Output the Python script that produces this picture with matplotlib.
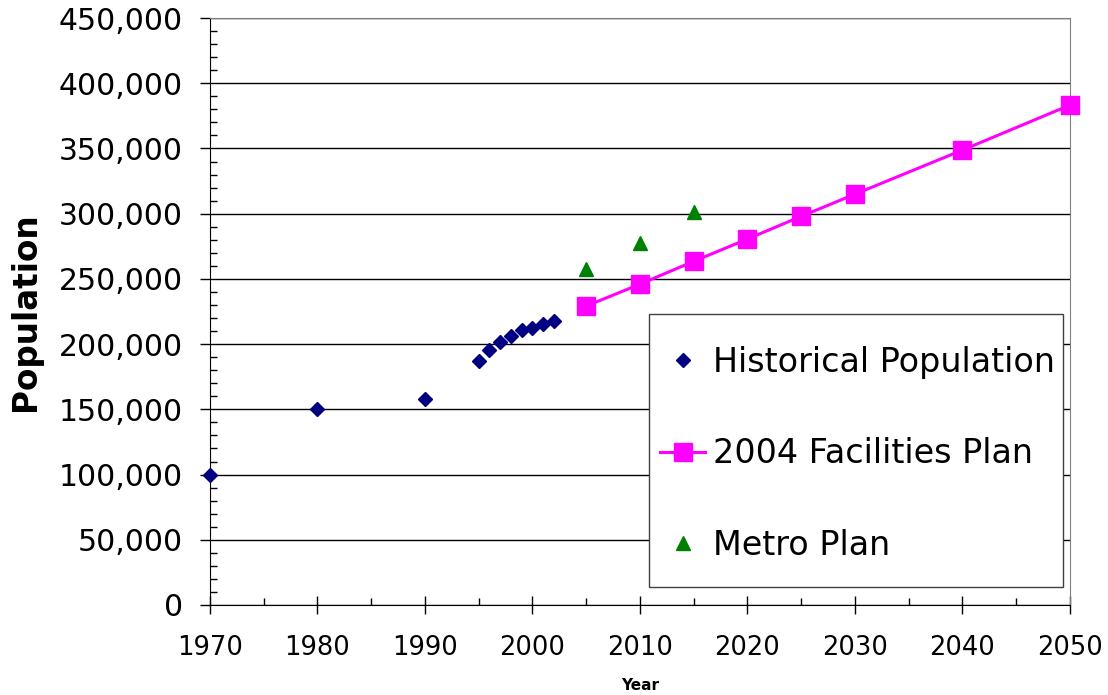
import matplotlib.pyplot as plt
from matplotlib.patches import Rectangle
from matplotlib.ticker import MultipleLocator, FuncFormatter

# population history and the two projections
hist_years = [1970, 1980, 1990, 1995, 1996, 1997, 1998, 1999, 2000, 2001, 2002]
hist_pop = [100000, 150000, 158000, 187000, 195500, 201400, 206500, 210800, 212000, 215200, 217700]

plan_years = [2005, 2010, 2015, 2020, 2025, 2030, 2040, 2050]
plan_pop = [229200, 246000, 263500, 280600, 298000, 315000, 348800, 383300]

metro_years = [2005, 2010, 2015]
metro_pop = [257300, 277300, 301500]

fig = plt.figure(figsize=(11.08, 6.95), dpi=100)
ax = fig.add_axes([0.1895, 0.1295, 0.7762, 0.8445])

ax.plot(hist_years, hist_pop, linestyle='none', marker='D', markersize=7.5,
        color='#000080', label='Historical Population', zorder=3, clip_on=False)
ax.plot(plan_years, plan_pop, color='#ff00ff', linewidth=2.2, marker='s',
        markersize=13, label='2004 Facilities Plan', zorder=3, clip_on=False)
ax.plot(metro_years, metro_pop, linestyle='none', marker='^', markersize=10,
        color='#008000', label='Metro Plan', zorder=3, clip_on=False)

ax.set_xlim(1970, 2050)
ax.set_ylim(0, 450000)
ax.xaxis.set_major_locator(MultipleLocator(10))
ax.xaxis.set_minor_locator(MultipleLocator(5))
ax.yaxis.set_major_locator(MultipleLocator(50000))
ax.yaxis.set_minor_locator(MultipleLocator(10000))
ax.yaxis.set_major_formatter(FuncFormatter(lambda v, p: f"{int(v):,}"))

ax.grid(axis='y', which='major', color='black', linewidth=1)
ax.set_axisbelow(True)

ax.tick_params(axis='y', which='major', direction='out', length=7.5, width=1,
               labelsize=21.5, pad=12)
ax.tick_params(axis='y', which='minor', direction='in', length=5, width=1)
ax.tick_params(axis='x', which='major', direction='inout', length=13, width=1,
               labelsize=18.5, pad=15)
ax.tick_params(axis='x', which='minor', direction='in', length=5, width=1)

for side in ['top', 'right']:
    ax.spines[side].set_color('#808080')
for side in ['left', 'bottom']:
    ax.spines[side].set_color('black')

ax.set_ylabel('Population', fontsize=23.5, fontweight='bold', labelpad=12)
ax.set_xlabel('Year', fontsize=11, fontweight='bold', labelpad=12)

# legend box drawn separately so the padding can be set freely
box = Rectangle((0.5105, 0.0307), 0.4814, 0.465, transform=ax.transAxes,
                facecolor='white', edgecolor='#404040', linewidth=1, zorder=4)
ax.add_patch(box)
leg = ax.legend(loc='upper left', bbox_to_anchor=(0.5233, 0.4412), fontsize=24,
                frameon=False, labelspacing=1.75, handlelength=1.35,
                handletextpad=0.24, borderpad=0, borderaxespad=0)
leg.set_zorder(5)

fig.savefig('out.png', dpi=100)
